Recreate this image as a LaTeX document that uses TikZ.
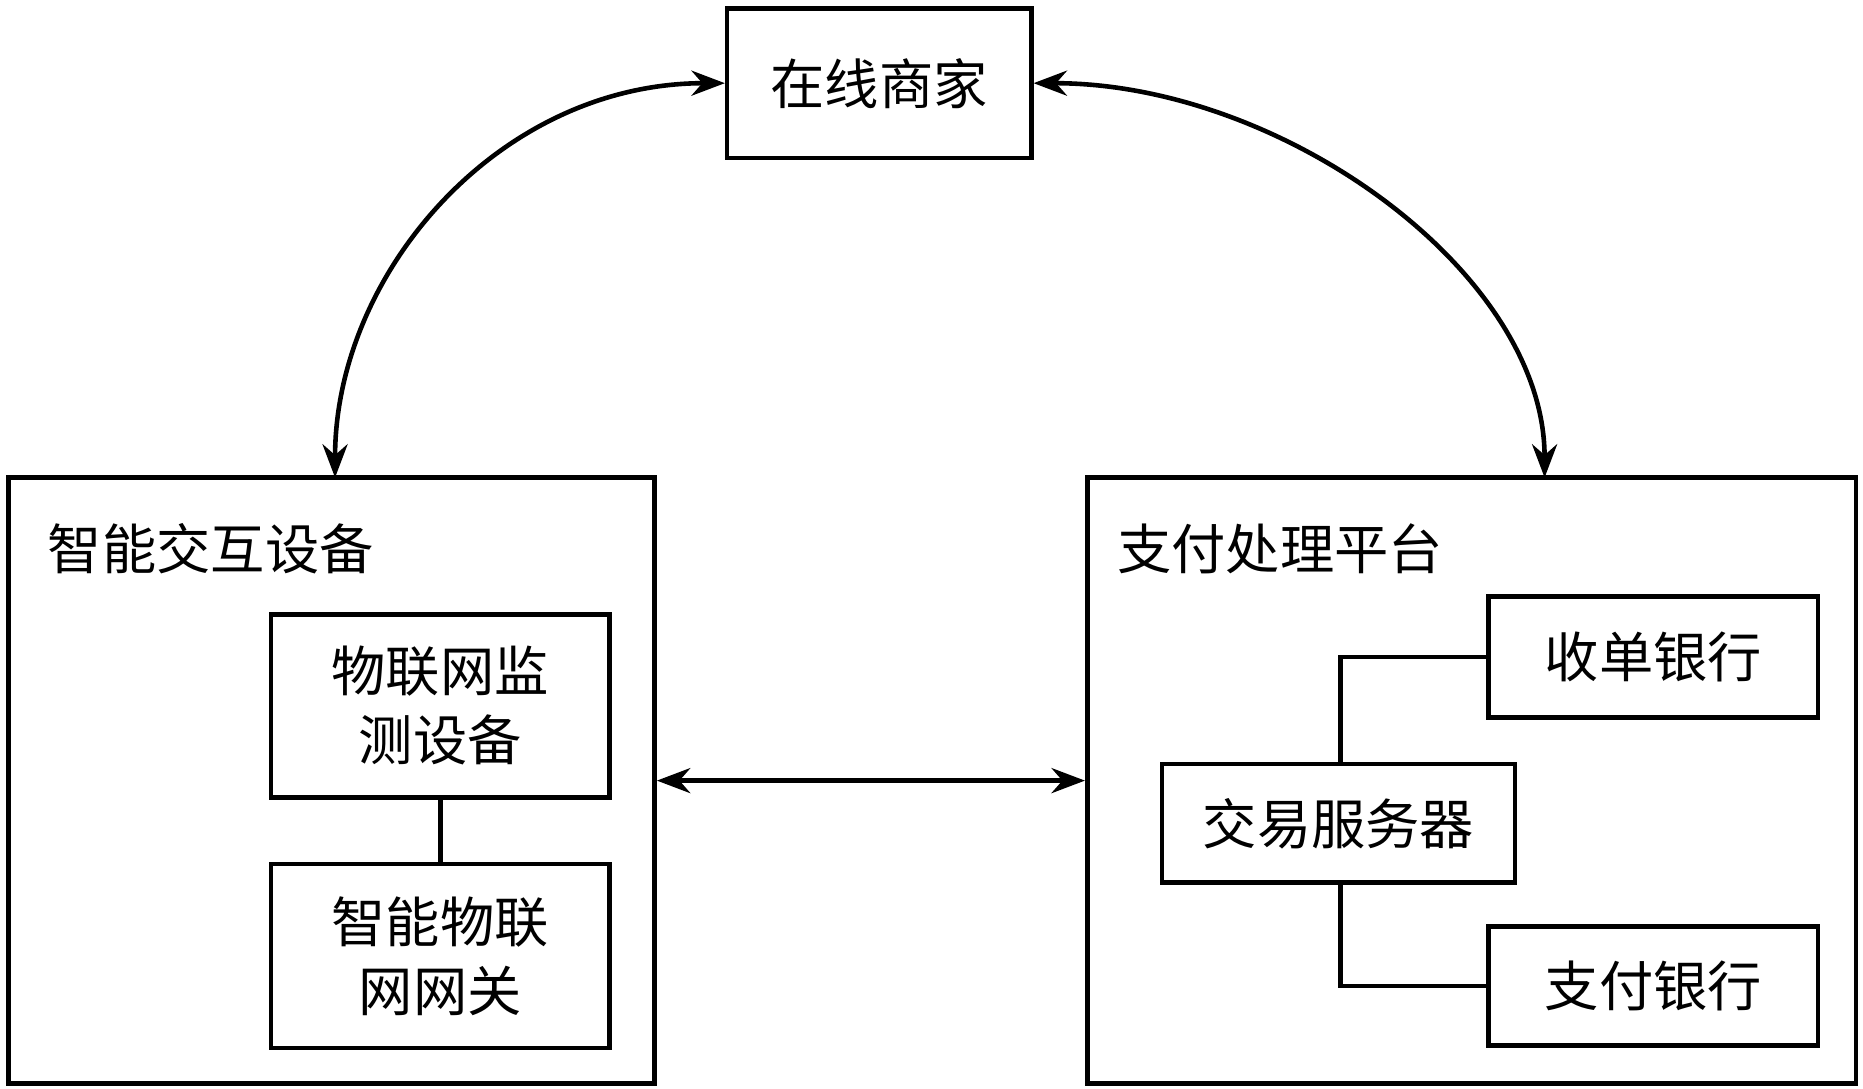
\documentclass[tikz,border=0pt]{standalone}
\usepackage{fontspec}
\setmainfont{Noto Sans CJK SC}
\usetikzlibrary{arrows.meta}
\begin{document}
\begin{tikzpicture}[x=0.02cm,y=-0.02cm,
  box/.style={draw,line width=2.2pt,inner sep=0pt,align=center,font=\fontsize{26}{33}\selectfont},
  lbl/.style={anchor=west,inner sep=0pt,font=\fontsize{26}{33}\selectfont},
  ln/.style={line width=2.2pt},
  arr/.style={ln,{Stealth[length=16pt,width=12pt]}-{Stealth[length=16pt,width=12pt]}}]
\useasboundingbox (0,0) rectangle (1568,916);
\node[box,minimum width=5.12cm,minimum height=2.52cm] (shop) at (740,70) {在线商家};
\node[box,minimum width=10.88cm,minimum height=10.2cm] (dev) at (279,657) {};
\node[lbl] (devl) at (40,462) {智能交互设备};
\node[box,minimum width=5.7cm,minimum height=3.08cm] (mon) at (370.5,594) {物联网监\\测设备};
\node[box,minimum width=5.7cm,minimum height=3.1cm] (gw) at (370.5,804.5) {智能物联\\网网关};
\node[box,minimum width=12.94cm,minimum height=10.2cm] (pay) at (1238.5,657) {};
\node[lbl] (payl) at (940,462) {支付处理平台};
\node[box,minimum width=5.54cm,minimum height=2.04cm] (acq) at (1391.5,553) {收单银行};
\node[box,minimum width=5.94cm,minimum height=2.0cm] (srv) at (1126.5,693) {交易服务器};
\node[box,minimum width=5.54cm,minimum height=2.0cm] (pb) at (1391.5,830) {支付银行};
\draw[ln] (mon) -- (gw);
\draw[ln] (srv.north -| 1128,0) |- (acq.west);
\draw[ln] (srv.south -| 1128,0) |- (pb.west);
\draw[arr] (dev.east) -- (pay.west);
\coordinate (a1) at (282,402);
\coordinate (a2) at (1300,402);
\draw[arr] (a1) .. controls (282,230) and (420,70) .. (shop.west);
\draw[arr] (a2) .. controls (1300,230) and (1080,70) .. (shop.east);
\end{tikzpicture}
\end{document}
